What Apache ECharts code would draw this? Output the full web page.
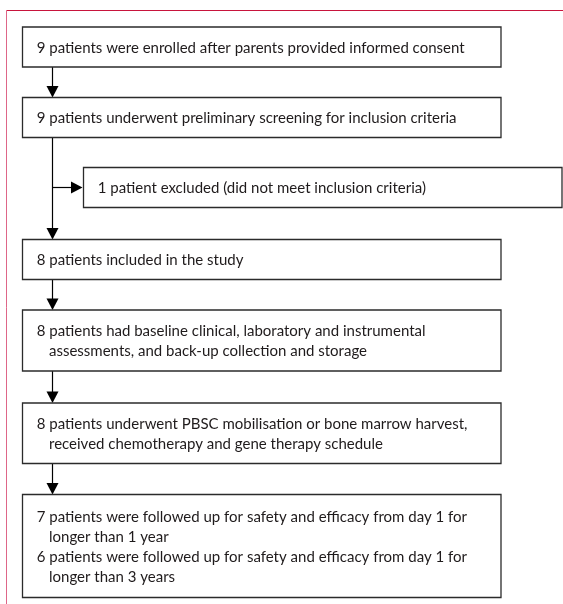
<!DOCTYPE html>
<html>
<head>
<meta charset="utf-8">
<script src="https://cdn.jsdelivr.net/npm/echarts@6/dist/echarts.min.js"></script>
<style>
html,body{margin:0;padding:0;background:#fff;}
#chart{width:563px;height:604px;}
</style>
</head>
<body>
<div id="chart"></div>
<script>
// ---- content (text of each flow step; each step = items, each item = wrapped lines) ----
const stepLabels = [
  [["9 patients were enrolled after parents provided informed consent"]],
  [["9 patients underwent preliminary screening for inclusion criteria"]],
  [["1 patient excluded (did not meet inclusion criteria)"]],
  [["8 patients included in the study"]],
  [["8 patients had baseline clinical, laboratory and instrumental", "assessments, and back-up collection and storage"]],
  [["8 patients underwent PBSC mobilisation or bone marrow harvest,", "received chemotherapy and gene therapy schedule"]],
  [["7 patients were followed up for safety and efficacy from day 1 for", "longer than 1 year"],
   ["6 patients were followed up for safety and efficacy from day 1 for", "longer than 3 years"]]
];
// flow connections: [fromStep, toStep]
const flowLinks = [[0, 1], [1, 3], [1, 2], [3, 4], [4, 5], [5, 6]];

// ---- layout (pixel-like axis units) ----
const frames = [
  [22.5, 27, 501, 67],
  [22.5, 97.5, 501, 137.5],
  [83.5, 167.5, 562, 207.5],
  [22.5, 239.5, 501, 279.5],
  [22.5, 310, 501, 371],
  [22.5, 403, 501, 463.5],
  [22.5, 494.5, 501, 597.5]
];
const lineGap = 20;
const spineX = 52.5;
const branchY = 187.5;
const FONT = '15px Lato, "Liberation Sans", sans-serif';
const INK = '#1f1b1c';

function renderBox(params, api) {
  const i = api.value(0);
  const f = frames[i];
  const p0 = api.coord([f[0], f[1]]);
  const p1 = api.coord([f[2], f[3]]);
  const children = [{
    type: 'rect',
    shape: {x: p0[0], y: p0[1], width: p1[0] - p0[0], height: p1[1] - p0[1]},
    style: {fill: '#fff', stroke: '#2b2b2b', lineWidth: 1.3}
  }];
  const lines = [];
  stepLabels[i].forEach(item => item.forEach((t, k) => lines.push({t, indent: k > 0})));
  const cy = (f[1] + f[3]) / 2 + 0.8;
  const startY = cy - lineGap * (lines.length - 1) / 2;
  lines.forEach((ln, k) => {
    const pt = api.coord([f[0] + 14.2 + (ln.indent ? 12.3 : 0), startY + k * lineGap]);
    children.push({
      type: 'text',
      style: {text: ln.t, x: pt[0], y: pt[1], font: FONT, fill: INK, verticalAlign: 'middle', align: 'left'}
    });
  });
  return {type: 'group', children};
}

function arrowHead(api, x, y, dir) {
  // tip at (x,y); dir 'down' or 'right'
  const tip = api.coord([x, y]);
  let pts;
  if (dir === 'down') pts = [[tip[0] - 6, tip[1] - 11.5], [tip[0] + 6, tip[1] - 11.5], tip];
  else pts = [[tip[0] - 11.5, tip[1] - 6], [tip[0] - 11.5, tip[1] + 6], tip];
  return {type: 'polygon', shape: {points: pts}, style: {fill: '#000'}};
}

function renderLink(params, api) {
  const a = api.value(0), b = api.value(1);
  const fa = frames[a], fb = frames[b];
  const children = [];
  if (b === 2) {
    const s = api.coord([spineX, branchY]);
    const e = api.coord([fb[0] - 1, branchY]);
    children.push({type: 'line', shape: {x1: s[0], y1: s[1], x2: e[0] - 10, y2: e[1]}, style: {stroke: '#000', lineWidth: 1.2}});
    children.push(arrowHead(api, fb[0] - 1, branchY, 'right'));
  } else {
    const s = api.coord([spineX, fa[3]]);
    const e = api.coord([spineX, fb[1]]);
    children.push({type: 'line', shape: {x1: s[0], y1: s[1], x2: e[0], y2: e[1] - 10}, style: {stroke: '#000', lineWidth: 1.2}});
    children.push(arrowHead(api, spineX, fb[1], 'down'));
  }
  return {type: 'group', children};
}

function renderFrame(params, api) {
  const tl = api.coord([6.5, 10.5]);
  const tr = api.coord([563, 10.5]);
  const bl = api.coord([6.5, 604]);
  return {type: 'group', children: [
    {type: 'line', shape: {x1: tl[0], y1: tl[1], x2: tr[0], y2: tr[1]}, style: {stroke: '#c8143c', lineWidth: 1.2}},
    {type: 'line', shape: {x1: tl[0], y1: tl[1], x2: bl[0], y2: bl[1]}, style: {stroke: '#de6688', lineWidth: 1}}
  ]};
}

const chart = echarts.init(document.getElementById('chart'), null, {renderer: 'canvas'});
chart.setOption({
  animation: false,
  backgroundColor: '#fff',
  grid: {left: 0, right: 0, top: 0, bottom: 0},
  xAxis: {type: 'value', min: 0, max: 563, show: false},
  yAxis: {type: 'value', min: 0, max: 604, inverse: true, show: false},
  series: [
    {type: 'custom', coordinateSystem: 'cartesian2d', renderItem: renderFrame, data: [[0]], silent: true, clip: false},
    {type: 'custom', coordinateSystem: 'cartesian2d', renderItem: renderLink, data: flowLinks, silent: true, clip: false},
    {type: 'custom', coordinateSystem: 'cartesian2d', renderItem: renderBox, data: stepLabels.map((_, i) => [i]), silent: true, clip: false}
  ]
});
</script>
</body>
</html>
